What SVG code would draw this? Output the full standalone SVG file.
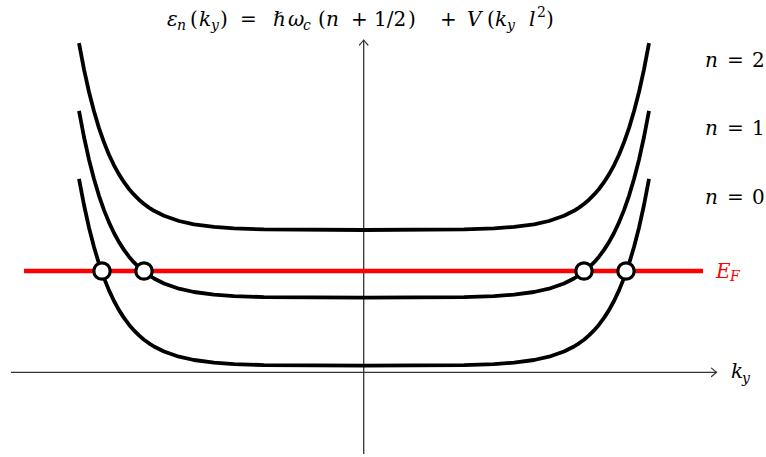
<svg xmlns="http://www.w3.org/2000/svg" width="766" height="457" viewBox="0 0 766 457">
<style>
.axis{stroke:#333;stroke-width:1.3;fill:none}
.band{stroke:#000;stroke-width:3.8;fill:none;stroke-linejoin:round;stroke-linecap:butt}
.fermi{stroke:#ff0000;stroke-width:4.5;fill:none}
.dot{fill:#fff;stroke:#000;stroke-width:3.2}
.t{font-family:'DejaVu Serif',serif;font-size:20px;fill:#000}
.i{font-style:italic}
.s{font-size:14px}
.red{fill:#ff0000}
</style>
<defs>
<marker id="arr" markerUnits="userSpaceOnUse" markerWidth="12" markerHeight="12" viewBox="-8 -6 10 12" refX="0" refY="0" orient="auto">
<path d="M-5,-4.2 Q-1.5,-1.2 0,0 Q-1.5,1.2 -5,4.2" fill="none" stroke="#333" stroke-width="1.2" stroke-linecap="round"/>
</marker>
<polyline id="curve" points="79,178.8 84,205.0 89,227.7 94,247.0 99,263.8 104,278.1 109,290.4 114,301.0 119,310.1 124,317.9 129,324.7 134,330.4 139,335.4 144,339.7 149,343.3 154,346.5 164,351.5 179,356.7 194,360.0 214,362.6 234,364.1 264,365.1 364,365.7 464,365.1 494,364.1 514,362.6 534,360.0 549,356.7 564,351.5 574,346.5 579,343.3 584,339.7 589,335.4 594,330.4 599,324.7 604,317.9 609,310.1 614,301.0 619,290.4 624,278.1 629,263.8 634,247.0 639,227.7 644,205.0 649,178.8"/>
</defs>
<g id="connectors">
<line id="x-axis" class="axis" x1="11" y1="372.3" x2="716.5" y2="372.3" marker-end="url(#arr)"/>
<line id="y-axis" class="axis" x1="363.7" y1="454" x2="363.7" y2="40" marker-end="url(#arr)"/>
</g>
<g id="band-n0"><use href="#curve" class="band"/></g>
<g id="band-n1"><use href="#curve" class="band" transform="translate(0,-68)"/></g>
<g id="band-n2"><use href="#curve" class="band" transform="translate(0,-135.7)"/></g>
<g id="fermi-level"><line class="fermi" x1="24" y1="271" x2="703" y2="271"/></g>
<g id="crossings">
<circle class="dot" cx="102" cy="271" r="8.2"/>
<circle class="dot" cx="144" cy="271" r="8.2"/>
<circle class="dot" cx="584" cy="271" r="8.2"/>
<circle class="dot" cx="626" cy="271" r="8.2"/>
</g>
<g id="title">
<text class="t" y="26"><tspan class="i" x="167">ε</tspan><tspan class="i s" x="177" y="30">n</tspan><tspan x="190" y="26">(</tspan><tspan class="i" x="199">k</tspan><tspan class="i s" x="211" y="30">y</tspan><tspan x="220" y="26">)</tspan><tspan x="240">=</tspan><tspan x="273">ℏ</tspan><tspan class="i" x="288">ω</tspan><tspan class="i s" x="303" y="30">c</tspan><tspan x="318" y="26">(</tspan><tspan class="i" x="326">n</tspan><tspan x="351">+</tspan><tspan x="374">1/2</tspan><tspan x="408">)</tspan><tspan x="440">+</tspan><tspan class="i" x="467">V</tspan><tspan x="487">(</tspan><tspan class="i" x="495">k</tspan><tspan class="i s" x="507" y="30">y</tspan><tspan class="i" x="529" y="26">l</tspan><tspan class="s" x="537" y="17">2</tspan><tspan x="546" y="26">)</tspan></text>
</g>
<g id="label-n2"><text class="t" y="67"><tspan class="i" x="705">n</tspan><tspan x="727">=</tspan><tspan x="752">2</tspan></text></g>
<g id="label-n1"><text class="t" y="135"><tspan class="i" x="705">n</tspan><tspan x="727">=</tspan><tspan x="752">1</tspan></text></g>
<g id="label-n0"><text class="t" y="203.5"><tspan class="i" x="705">n</tspan><tspan x="727">=</tspan><tspan x="752">0</tspan></text></g>
<g id="label-EF"><text class="t red" y="277.7"><tspan class="i" x="716">E</tspan><tspan class="i s" x="730" y="281">F</tspan></text></g>
<g id="label-ky"><text class="t" y="377.7"><tspan class="i" x="731">k</tspan><tspan class="i s" x="742" y="383">y</tspan></text></g>
</svg>
